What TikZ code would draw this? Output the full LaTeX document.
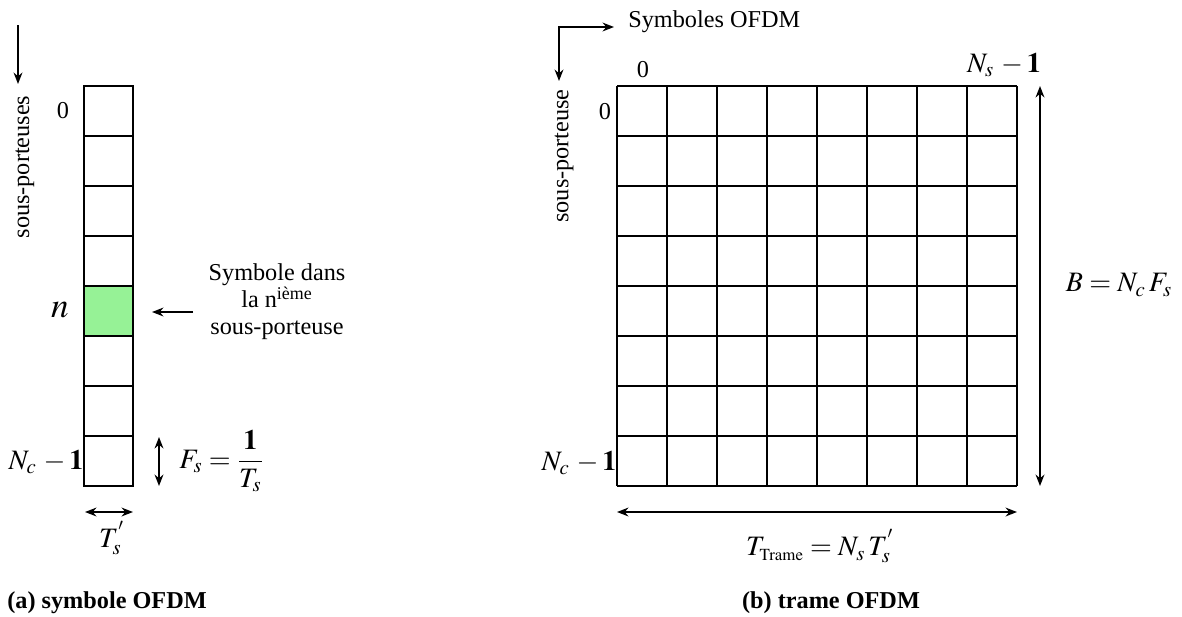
\documentclass[tikz,border=0pt]{standalone}
\usepackage{mathptmx}
\usepackage{fontspec}
\setmainfont{Liberation Serif}
\usetikzlibrary{arrows.meta}
\definecolor{cellgreen}{RGB}{150,242,150}

\begin{document}
\begin{tikzpicture}[x=0.02cm, y=-0.02cm, >={Stealth[length=6.5pt,width=5pt]},
    cellbox/.style={draw, line width=1.1pt},
    txt/.style={font=\fontsize{13.8}{15.3}\selectfont, inner sep=0pt},
    mth/.style={font=\fontsize{16}{19}\selectfont, inner sep=0pt},
    figcap/.style={font=\fontsize{13.8}{16}\selectfont\bfseries, inner sep=0pt},
    flow/.style={->, line width=1.1pt},
    dimarrow/.style={<->, line width=1.1pt}]
  \useasboundingbox (0,0) rectangle (1182,616);

  % Taille d'une case
  \def\cw{50}

  % ---------------- (a) symbole OFDM ----------------
  \coordinate (col-nw) at (84,86);
  \coordinate (col-se) at (133,486);

  % Case de la n-ieme sous-porteuse
  \fill[cellgreen] (84,286) rectangle (133,336);

  % Colonne de 8 cases
  \foreach \k in {0,...,7}
    \draw[cellbox] (84,86+\cw*\k) rectangle (133,136+\cw*\k);

  % Axe des sous-porteuses
  \node[txt, rotate=90] (spa) at (25,167) {sous-porteuses};
  \coordinate (spa-top) at (18,25);
  \coordinate (spa-bot) at (18,84);
  \draw[flow] (spa-top) -- (spa-bot);

  % Indices
  \node[txt] (zeroa) at (63,111) {0};
  \node[font=\fontsize{20}{24}\selectfont, inner sep=0pt] (nidx) at (60,310) {$n$};
  \node[mth] (nca) at (46,462) {$N_c\,-\mathbf{1}$};

  % Legende de la case verte
  \node[txt, align=center] (legend) at (277,302)
    {Symbole dans\\la n\textsuperscript{ième}\\sous-porteuse};
  \coordinate (leg-tail) at (193,312);
  \coordinate (leg-head) at (152,312);
  \draw[flow] (leg-tail) -- (leg-head);

  % Espacement entre sous-porteuses
  \coordinate (fs-top) at (159,437);
  \coordinate (fs-bot) at (159,486);
  \draw[dimarrow] (fs-top) -- (fs-bot);
  \node[mth, anchor=west] (fs) at (179,461) {$F_s=\displaystyle\frac{\mathbf{1}}{T_s}$};

  % Duree d'un symbole
  \coordinate (ts-l) at (85,512);
  \coordinate (ts-r) at (133,512);
  \draw[dimarrow] (ts-l) -- (ts-r);
  \node[mth] (ts) at (112,538) {$T_s^{'}$};

  \node[figcap, anchor=west] (capa) at (7,603) {(a) symbole OFDM};

  % ---------------- (b) trame OFDM ----------------
  \coordinate (g-nw) at (617,86);
  \coordinate (g-ne) at (1017,86);
  \coordinate (g-sw) at (617,486);
  \coordinate (g-se) at (1017,486);

  % Grille 8 x 8
  \foreach \k in {0,...,8} {
    \draw[line width=1.1pt] (617+\cw*\k,86) -- (617+\cw*\k,486);
    \draw[line width=1.1pt] (617,86+\cw*\k) -- (1017,86+\cw*\k);
  }

  % Axes symboles / sous-porteuses
  \coordinate (ax-r) at (614,27);
  \coordinate (ax-c) at (559,27);
  \coordinate (ax-d) at (559,81);
  \draw[<->, line width=1.1pt] (ax-r) -- (ax-c) -- (ax-d);
  \node[txt, anchor=west] (symb) at (628,22) {Symboles OFDM};
  \node[txt, rotate=90] (spb) at (564,156) {sous-porteuse};

  % Indices
  \node[txt] (zerox) at (643,70) {0};
  \node[mth] (nsb) at (1004,65) {$N_s\,-\mathbf{1}$};
  \node[txt] (zeroy) at (605,112) {0};
  \node[mth] (ncb) at (579,463) {$N_c\,-\mathbf{1}$};

  % Largeur de bande
  \draw[dimarrow] ([xshift=23*0.02cm]g-ne) -- ([xshift=23*0.02cm]g-se);
  \node[mth] (bw) at (1119,285) {$B=N_c\,F_s$};

  % Duree de la trame
  \draw[dimarrow] ([yshift=-26*0.02cm]g-sw) -- ([yshift=-26*0.02cm]g-se);
  \node[mth] (tt) at (820,546) {$T_{\scriptscriptstyle\mathrm{Trame}}=N_s\,T_s^{'}$};

  \node[figcap] (capb) at (831,603) {(b) trame OFDM};
\end{tikzpicture}
\end{document}
